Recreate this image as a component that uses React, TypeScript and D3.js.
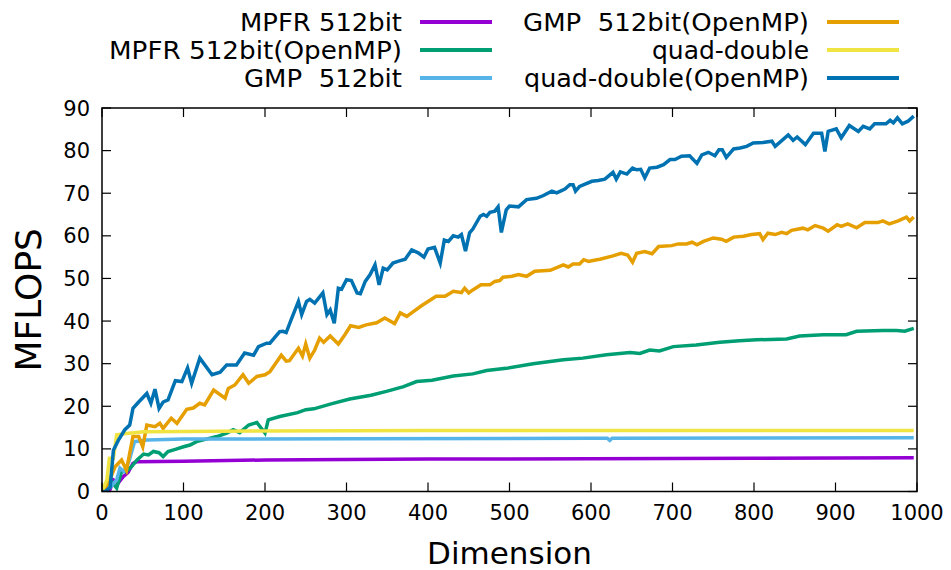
import * as d3 from "d3";

type Pt = [number, number];

// dimension, MFLOPS
const mpfr: Pt[] = [[0,0],[10,0.5],[14,2.7],[20,2],[26,3.5],[32,4.5],[38,6.6],[43,7.0],[100,7.1],[200,7.4],[400,7.6],[600,7.7],[800,7.8],[996,7.9]];
const mpfrOmp: Pt[] = [[0,0],[10,2.7],[18,0.8],[24,4.7],[30,4.7],[36,5.8],[43,7.4],[51,8.8],[57,8.6],[63,9.4],[70,9.1],[75,8.2],[81,9.4],[90,9.9],[100,10.5],[108,10.9],[116,11.7],[128,12.3],[141,12.9],[153,13.7],[161,14.5],[169,13.8],[180,15.6],[190,16.2],[200,13.7],[204,16.8],[218,17.6],[240,18.5],[250,19.2],[260,19.4],[280,20.5],[304,21.7],[330,22.6],[349,23.5],[370,24.6],[386,25.8],[405,26.1],[431,27.1],[455,27.6],[472,28.4],[496,28.9],[529,30],[566,30.9],[590,31.3],[619,32.1],[648,32.6],[660,32.4],[672,33.2],[684,33],[701,34],[729,34.4],[758,35],[782,35.4],[803,35.6],[840,35.8],[856,36.5],[885,36.8],[913,36.8],[926,37.6],[958,37.8],[975,37.8],[985,37.6],[996,38.3]];
const gmp: Pt[] = [[0,0],[10,1],[18,2.7],[22,5.5],[27,4.7],[33,7],[40,11.7],[55,12.1],[100,12.3],[300,12.4],[600,12.5],[620,12.5],[623,12.0],[626,12.5],[996,12.6]];
const gmpOmp: Pt[] = [[0,0],[8,2],[16,5.8],[24,7.4],[30,5],[38,12.9],[45,12.9],[50,10.5],[55,15.6],[65,15.2],[71,16],[75,14.8],[85,17.2],[92,16],[104,19.3],[112,19.6],[120,20.7],[126,20.3],[137,23.8],[151,21.9],[155,24.2],[163,25],[173,27.4],[180,25.4],[190,27],[200,27.4],[206,28.1],[220,32],[226,30.6],[230,30.7],[241,33.6],[246,31.8],[250,34.6],[255,31.3],[261,33.2],[267,36],[272,35],[280,36.5],[290,34.6],[298,36.8],[305,38.9],[315,38.5],[324,39.1],[337,39.6],[347,40.7],[359,39.4],[366,41.9],[374,41.1],[382,42.2],[392,43.6],[400,44.6],[410,45.8],[417,45.8],[421,45.8],[431,47],[441,46.7],[445,47.7],[450,46.6],[455,47.3],[465,48.5],[476,48.5],[482,49.3],[488,49.5],[492,50.3],[503,50.5],[511,50.9],[521,50.5],[531,51.7],[550,51.9],[566,53.2],[572,52.7],[578,53.4],[586,53.4],[591,54.4],[597,54],[607,54.4],[611,54.5],[627,55.3],[637,55.9],[645,55.5],[651,53.8],[656,55.9],[666,56.3],[675,55.8],[683,57.5],[699,57.7],[707,58.1],[717,58.1],[724,58.5],[730,57.9],[738,58.7],[750,59.5],[760,59.2],[766,58.7],[775,59.7],[787,59.9],[797,60.3],[807,60.5],[811,59.1],[817,60.6],[826,60.3],[834,60.8],[840,60.5],[846,61.3],[860,61.8],[866,61.4],[875,62.4],[885,61.8],[891,61.1],[902,62.6],[907,62.2],[915,62.8],[926,61.9],[936,63.1],[952,63.1],[958,63.5],[966,62.8],[977,63.5],[987,64.4],[991,63.5],[996,64.4]];
const qd: Pt[] = [[0,0],[6,2.7],[9,7.8],[14,7.8],[18,13.3],[30,13.6],[51,14.0],[100,14.1],[200,14.2],[400,14.3],[600,14.3],[800,14.3],[996,14.3]];
const qdOmp: Pt[] = [[0,0],[4,0],[10,1],[14,9.7],[20,12],[28,14.5],[34,15.6],[38,19.5],[45,21],[55,23],[60,20.7],[65,24],[70,19.5],[75,21],[81,21.5],[90,26],[98,25.8],[105,29],[110,25.4],[120,31.3],[135,27.4],[145,28],[153,29.7],[165,29.7],[175,32.5],[186,32],[192,34],[202,34.8],[206,34.8],[218,37.5],[222,37.6],[226,37.3],[232,40.3],[241,44.6],[245,41.5],[251,44.6],[255,45.1],[261,44.2],[271,46.6],[276,41.5],[280,42.6],[285,39.5],[290,47.7],[294,47.5],[300,49.7],[306,49.5],[313,46.6],[317,46.4],[323,49.3],[329,50.9],[335,53.2],[340,48.5],[345,52.4],[350,52],[357,53.6],[363,54],[372,54.5],[380,56.7],[388,56],[395,55],[400,56.9],[408,57.3],[415,53.6],[420,59],[425,58.7],[431,60],[437,59.7],[441,60.3],[446,56.4],[451,60.7],[455,61.6],[464,64.6],[468,65],[472,64.6],[476,65.5],[482,65.8],[486,66.8],[490,60.8],[496,66.1],[500,67],[511,66.8],[521,68.5],[533,68.8],[541,69.4],[552,70.5],[558,70.1],[568,71],[574,72],[578,72],[581,70.5],[586,71.6],[601,72.8],[609,73],[617,73.3],[627,74.9],[631,73.3],[636,75],[644,74.5],[651,75.9],[656,75.5],[661,75.6],[666,73.6],[672,75.9],[681,76.1],[689,76.7],[697,77.9],[703,77.9],[711,78.7],[721,78.8],[730,77],[736,79],[744,79.6],[752,78.8],[757,80.2],[761,80.2],[766,78.4],[775,80.4],[783,80.6],[791,81],[799,81.8],[811,81.9],[822,82.2],[826,81],[842,83.7],[848,82.4],[853,83.2],[863,81.4],[873,84.1],[883,84.1],[887,79.8],[891,84.5],[901,85.1],[907,83],[917,85.9],[928,84.5],[934,85.7],[942,85.1],[948,86.3],[962,86.3],[967,87.1],[971,86.5],[976,87.7],[982,86.3],[989,86.9],[996,88.1]];

const seriesNames = ["MPFR 512bit", "MPFR 512bit(OpenMP)", "GMP  512bit", "GMP  512bit(OpenMP)", "quad-double", "quad-double(OpenMP)"];
const seriesData = [mpfr, mpfrOmp, gmp, gmpOmp, qd, qdOmp];
const colors = ["#9400d3", "#009e73", "#56b4e9", "#e69f00", "#f0e442", "#0072b2"];
// widths of the legend labels as drawn in the reference
const legendWidths = [162, 293, 158, 286, 157, 285];

const xTicks = [0, 100, 200, 300, 400, 500, 600, 700, 800, 900, 1000];
const yTicks = [0, 10, 20, 30, 40, 50, 60, 70, 80, 90];

const W = 951;
const H = 570;
const left = 102, right = 917, top = 108, bottom = 491.5;
const font = "DejaVu Sans, sans-serif";

export default function App() {
  const x = d3.scaleLinear().domain([0, 1000]).range([left, right]);
  const y = d3.scaleLinear().domain([0, 90]).range([bottom, top]);
  const line = d3.line<Pt>().x((d) => x(d[0])).y((d) => y(d[1]));
  const tick = 9;

  return (
    <svg width={W} height={H} style={{ position: "absolute", left: 0, top: 0, background: "#fff" }}>
      <defs>
        <clipPath id="clip">
          <rect x={left} y={top} width={right - left} height={bottom - top} />
        </clipPath>
      </defs>
      {/* series */}
      <g clipPath="url(#clip)">
        {seriesData.map((s, i) => (
          <path key={i} d={line(s) || ""} fill="none" stroke={colors[i]} strokeWidth={3.5} strokeLinejoin="miter" />
        ))}
      </g>

      {/* ticks */}
      {yTicks.map((t) => (
        <g key={"y" + t}>
          <line x1={left} x2={left + tick} y1={y(t)} y2={y(t)} stroke="#000" strokeWidth={1.2} />
          <line x1={right} x2={right - tick} y1={y(t)} y2={y(t)} stroke="#000" strokeWidth={1.2} />
          <text x={left - 12} y={y(t)} dy="0.36em" textAnchor="end" fontFamily={font} fontSize={21}>{t}</text>
        </g>
      ))}
      {xTicks.map((t) => (
        <g key={"x" + t}>
          <line x1={x(t)} x2={x(t)} y1={bottom} y2={bottom - tick} stroke="#000" strokeWidth={1.2} />
          <line x1={x(t)} x2={x(t)} y1={top} y2={top + tick} stroke="#000" strokeWidth={1.2} />
          <text x={x(t)} y={bottom + 28} textAnchor="middle" fontFamily={font} fontSize={21}>{t}</text>
        </g>
      ))}
      <rect x={left} y={top} width={right - left} height={bottom - top} fill="none" stroke="#000" strokeWidth={1.5} />

      {/* axis titles */}
      <text x={(left + right) / 2} y={564} textAnchor="middle" fontFamily={font} fontSize={31}>Dimension</text>
      <text transform={`translate(41,${(top + bottom) / 2}) rotate(-90)`} textAnchor="middle" fontFamily={font} fontSize={36}>MFLOPS</text>

      {/* legend */}
      {seriesNames.map((name, i) => {
        const col = i < 3 ? 0 : 1;
        const row = i % 3;
        const textEnd = col === 0 ? 402 : 809;
        const cy = 22 + row * 28;
        return (
          <g key={name}>
            <text x={textEnd - legendWidths[i]} y={cy} dy="0.36em" fontFamily={font} fontSize={24}
              textLength={legendWidths[i]} lengthAdjust="spacingAndGlyphs" style={{ whiteSpace: "pre" }}>{name}</text>
            <line x1={textEnd + 18} x2={textEnd + 90} y1={cy} y2={cy} stroke={colors[i]} strokeWidth={4} />
          </g>
        );
      })}
    </svg>
  );
}
